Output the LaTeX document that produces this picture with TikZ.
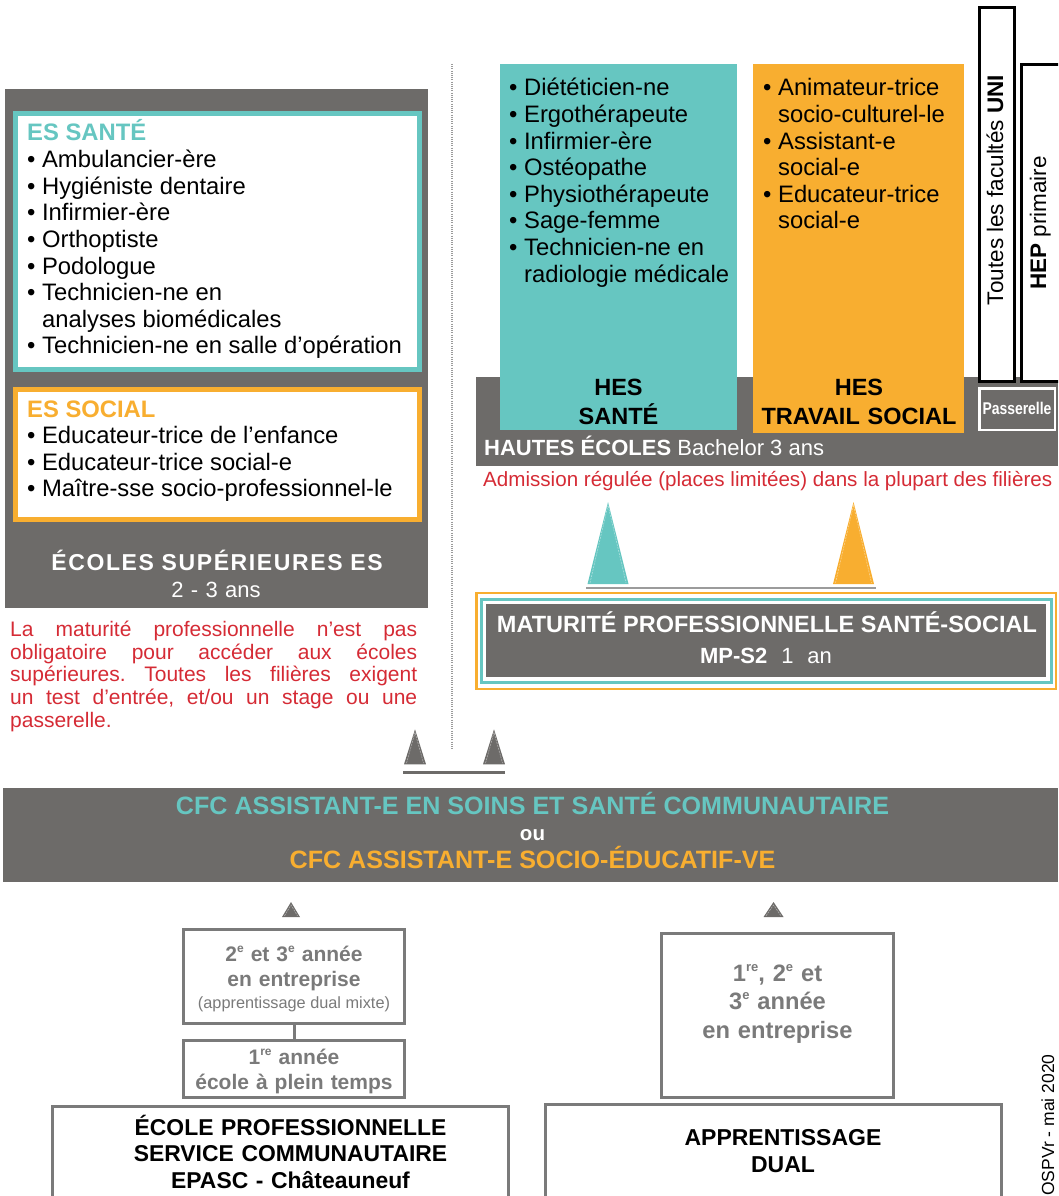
\documentclass[tikz,border=0pt]{standalone}
\usepackage{fontspec}
\setmainfont{Liberation Sans}
\newfontfamily\narrowfont[FakeStretch=0.82]{Liberation Sans}
\usetikzlibrary{positioning}
\definecolor{esgrey}{HTML}{6D6B69}
\definecolor{esteal}{HTML}{66C6C1}
\definecolor{esorange}{HTML}{F8AE30}
\definecolor{esred}{HTML}{D52B35}
\definecolor{boxgrey}{HTML}{7A7A7A}
\definecolor{rulegrey}{HTML}{9B9B9B}
\newcommand{\fs}[2]{\fontsize{#1}{#2}\selectfont}
\newcommand{\bt}{•\ }
\newcommand{\ind}{\hphantom{•\ }}
\newcommand{\expo}[2][12]{\raisebox{0.42em}{\fs{#1}{#1}#2}}
\newcommand{\justline}[1]{{\frenchspacing\spaceskip=0pt\relax\makebox[407pt][s]{#1}}}
\newcommand{\cone}[5]{% colour, apex x, apex y, base y, half width
  \fill[#1] (#2-#5,#4) -- (#2,#3) -- (#2+#5,#4) -- cycle;
  \draw[white, opacity=0.45, line width=0.6pt, dash pattern=on 2pt off 1pt]
    (#2-#5+2.5,#4-1.2) -- (#2,#3+3) -- (#2+#5-2.5,#4-1.2);
}
\tikzset{
panel/.style={fill=esgrey, inner sep=0pt, anchor=north west}, % grey blocks
boxframe/.style={draw, fill=white, inner sep=0pt}, % framed boxes
plainspace/.style={execute at begin node={\spaceskip=0pt\relax\xspaceskip=0pt\relax}}, % font's own spaces
listtext/.style={plainspace, anchor=base west, inner sep=0pt, align=left, font=\fs{23.8}{26.6}}, % bullet lists
headtext/.style={anchor=base, inner sep=0pt, align=center, font=\bfseries}, % centred headings
bar/.style={line width=2.5pt}, % rules under the cones
joinline/.style={draw=boxgrey, line width=3pt}, % link between the two school boxes
}

\begin{document}
\begin{tikzpicture}[x=1pt, y=-1pt]
  \useasboundingbox (0,0) rectangle (1058,1196);
  \begin{scope}
  \clip (0,0) rectangle (1058,1196);

  % ecoles superieures
  \node[panel, minimum width=423pt, minimum height=519pt] (es) at (5,89) {};
  \node[boxframe, draw=esteal, line width=5pt, minimum width=404pt, minimum height=256pt] (sante) at (217.5,241.5) {};
  \node[boxframe, draw=esorange, line width=5pt, minimum width=404pt, minimum height=130pt] (social) at (217.5,454.5) {};
  \node[listtext, text width=395pt] (santelist) at (27,141) {\textcolor{esteal}{\bfseries ES SANTÉ}\\
    \bt Ambulancier-ère\\ \bt Hygiéniste dentaire\\ \bt Infirmier-ère\\ \bt Orthoptiste\\ \bt Podologue\\
    \bt Technicien-ne en\\ \ind analyses biomédicales\\ \bt Technicien-ne en salle d’opération};
  \node[listtext, text width=395pt] (sociallist) at (27,417) {\textcolor{esorange}{\bfseries ES SOCIAL}\\
    \bt Educateur-trice de l’enfance\\ \bt Educateur-trice social-e\\ \bt Maître-sse socio-professionnel-le};
  \node[headtext, text width=400pt, font=\fs{23}{27}\bfseries, text=white] (estitle) at (217,570.7)
    {\addfontfeature{LetterSpace=7}ÉCOLES SUPÉRIEURES ES};
  \node[headtext, text width=400pt, font=\fs{22}{26}, text=white] (esduree) at (216,597.3) {2 - 3 ans};
  \node[listtext, text width=407pt, font=\fs{21}{22.6}, text=esred] (esnote) at (10,636.7)
    {\justline{La maturité professionnelle n’est pas}\\ \justline{obligatoire pour accéder aux écoles}\\
     \justline{supérieures. Toutes les filières exigent}\\ \justline{un test d’entrée, et/ou un stage ou une}\\ passerelle.};

  % dotted divider
  \draw[rulegrey, line width=2.7pt, dash pattern=on 1pt off 1.2pt] (452,64) -- (452,749);

  \cone{esgrey}{415}{729.3}{764.3}{11}
  \cone{esgrey}{494}{729.3}{764.3}{11}
  \draw[esgrey, bar] (403,772.3) -- (505,772.3);

  % hautes ecoles
  \node[panel, minimum width=582pt, minimum height=89pt] (hautes) at (476,377) {};
  \node[panel, fill=esteal, minimum width=237pt, minimum height=366pt] (hessante) at (500,64) {};
  \node[panel, fill=esorange, minimum width=211pt, minimum height=369pt] (hestravail) at (753,64) {};
  \node[boxframe, draw=black, line width=3pt, minimum width=35pt, minimum height=374pt] (uni) at (997,194.5) {};
  \node[boxframe, draw=black, line width=3pt, minimum width=38.5pt, minimum height=317pt] (hep) at (1040.75,223) {};
  \node[boxframe, fill=esgrey, draw=white, line width=2.5pt, minimum width=75.5pt, minimum height=41.5pt] (passerelle) at (1017,409) {};
  \node[headtext, font=\narrowfont\fs{17}{20}\bfseries, text=white] (passtext) at (1017,414) {Passerelle};

  \node[listtext, text width=228pt] (santeliste) at (509,96) {\bt Diététicien-ne\\ \bt Ergothérapeute\\
    \bt Infirmier-ère\\ \bt Ostéopathe\\ \bt Physiothérapeute\\ \bt Sage-femme\\ \bt Technicien-ne en\\ \ind radiologie médicale};
  \node[listtext, text width=200pt] (travailliste) at (763,96) {\bt Animateur-trice\\ \ind socio-culturel-le\\
    \bt Assistant-e\\ \ind social-e\\ \bt Educateur-trice\\ \ind social-e};
  \node[headtext, text width=230pt, font=\fs{23.5}{29.5}\bfseries] (hessantetitle) at (618.5,395) {HES\\SANTÉ};
  \node[headtext, text width=210pt, font=\fs{23.5}{29.5}\bfseries] (hestravailtitle) at (859,395) {HES\\TRAVAIL SOCIAL};
  \node[headtext, rotate=90, font=\fs{22.5}{26}] (unitext) at (1003,190) {Toutes les facultés \textbf{UNI}};
  \node[headtext, rotate=90, font=\fs{22.5}{26}] (heptext) at (1046,223) {\textbf{HEP} primaire};

  \node[listtext, font=\fs{22}{26}, text=white] (hautestext) at (484,455) {\textbf{HAUTES ÉCOLES} Bachelor 3 ans};
  \node[listtext, font=\fs{20.6}{24}, text=esred] (admission) at (483,486) {Admission régulée (places limitées) dans la plupart des filières};

  \cone{esteal}{608}{502}{584}{20.5}
  \cone{esorange}{853.5}{502}{584}{20.5}
  \draw[rulegrey, bar] (586,588) -- (876,588);

  % maturite professionnelle
  \node[boxframe, draw=esorange, line width=2.5pt, minimum width=579.5pt, minimum height=96pt] (mpouter) at (766.25,641) {};
  \node[boxframe, draw=esteal, line width=3pt, minimum width=570.5pt, minimum height=83.5pt] (mpinner) at (766.25,640.75) {};
  \node[panel, anchor=center, minimum width=560pt, minimum height=73pt] (mp) at (766,640.5) {};
  \node[headtext, font=\fs{23.5}{27}\bfseries, text=white] (mptitle) at (767,632.7) {MATURITÉ PROFESSIONNELLE SANTÉ-SOCIAL};
  \node[headtext, font=\fs{22}{26}, text=white] (mpduree) at (766,663.3) {{\bfseries MP-S2}\hspace{14pt}1\hspace{14pt}an};

  % CFC
  \node[panel, minimum width=1055pt, minimum height=94pt] (cfc) at (3,788) {};
  \node[headtext, font=\fs{25.1}{28}\bfseries, text=esteal] (cfcsoins) at (532.5,814.5) {CFC ASSISTANT-E EN SOINS ET SANTÉ COMMUNAUTAIRE};
  \node[headtext, font=\fs{20.5}{24}\bfseries, text=white] (cfcou) at (532.5,840) {ou};
  \node[headtext, font=\fs{25.1}{28}\bfseries, text=esorange] (cfcsocio) at (532.5,868.5) {CFC ASSISTANT-E SOCIO-ÉDUCATIF-VE};

  % voies de formation
  \cone{esgrey}{291}{902}{917}{9}
  \cone{esgrey}{773.5}{902}{917}{10}
  \node[boxframe, draw=boxgrey, line width=3pt, minimum width=221pt, minimum height=94pt] (mixte) at (294,976.5) {};
  \node[boxframe, draw=boxgrey, line width=3pt, minimum width=221pt, minimum height=57pt] (pleintemps) at (294,1069) {};
  \draw[joinline] (mixte) -- (pleintemps);
  \node[boxframe, draw=boxgrey, line width=3pt, minimum width=456pt, minimum height=113.5pt] (epasc) at (280.5,1163.25) {};
  \node[boxframe, draw=boxgrey, line width=3pt, minimum width=232pt, minimum height=164pt] (entreprise) at (777.5,1015.5) {};
  \node[boxframe, draw=boxgrey, line width=3pt, minimum width=456.5pt, minimum height=115.5pt] (dual) at (773.25,1162.25) {};

  \node[headtext, text width=215pt, font=\fs{21}{25}\bfseries, text=boxgrey] (mixtetext) at (294,961.7)
    {2\expo{e} et 3\expo{e} année\\en entreprise};
  \node[headtext, font=\fs{16.3}{20}, text=boxgrey] (mixtenote) at (294,1008) {(apprentissage dual mixte)};
  \node[headtext, text width=215pt, font=\fs{21}{25}\bfseries, text=boxgrey] (pleintempstext) at (294,1064)
    {1\expo{re} année\\école à plein temps};
  \node[headtext, text width=440pt, font=\fs{22.9}{26.6}\bfseries] (epasctext) at (290.5,1135)
    {ÉCOLE PROFESSIONNELLE\\SERVICE COMMUNAUTAIRE\\EPASC - Châteauneuf};
  \node[headtext, text width=225pt, font=\fs{23.7}{28.2}\bfseries, text=boxgrey] (entreprisetext) at (777.5,981.7)
    {1\expo[13]{re}, 2\expo[13]{e} et\\3\expo[13]{e} année\\en entreprise};
  \node[headtext, text width=440pt, font=\fs{23}{27.7}\bfseries] (dualtext) at (783,1145) {APPRENTISSAGE\\DUAL};
  \node[listtext, rotate=90, font=\fs{17.5}{20}] (credit) at (1054,1196) {OSPVr - mai 2020};
  \end{scope}
\end{tikzpicture}
\end{document}
